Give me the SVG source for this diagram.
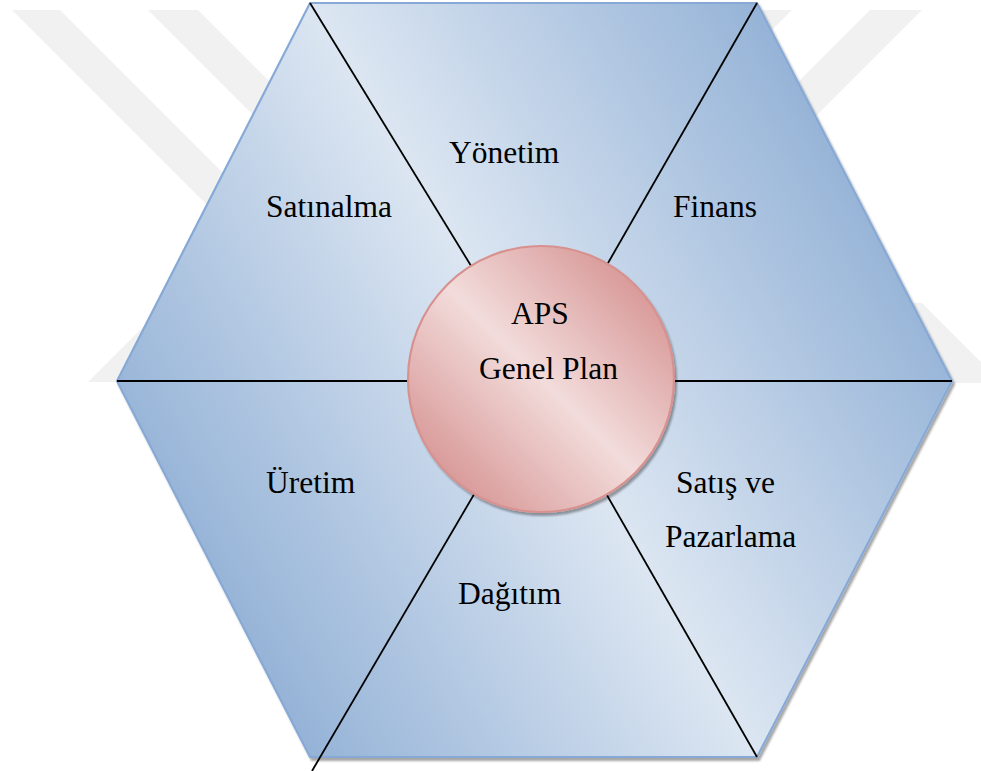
<svg xmlns="http://www.w3.org/2000/svg" width="981" height="771" viewBox="0 0 981 771">
  <defs>
    <style>
      .mark { fill: #f1f1f1; }
      .spoke { stroke: #000; stroke-width: 1.8; fill: none; }
      .lbl { font-family: "Liberation Serif", "Times New Roman", serif; font-size: 31.5px; fill: #000; }
    </style>
    <linearGradient id="hexFill" gradientUnits="userSpaceOnUse" x1="867" y1="185" x2="203" y2="575">
      <stop offset="0" stop-color="#95b3d7"/>
      <stop offset="0.5" stop-color="#dce6f2"/>
      <stop offset="1" stop-color="#95b3d7"/>
    </linearGradient>
    <linearGradient id="coreFill" x1="0.85" y1="0.15" x2="0.15" y2="0.85">
      <stop offset="0" stop-color="#d99c9b"/>
      <stop offset="0.5" stop-color="#f2dcdb"/>
      <stop offset="1" stop-color="#d99c9b"/>
    </linearGradient>
    <filter id="shade" x="-5%" y="-5%" width="110%" height="110%">
      <feDropShadow dx="2" dy="3" stdDeviation="1.2" flood-color="#000" flood-opacity="0.35"/>
    </filter>
  </defs>

  <rect x="0" y="0" width="981" height="771" fill="#ffffff"/>

  <!-- faint background bands -->
  <g id="backdrop">
    <polygon class="mark" points="12,10 60,10 300,250 252,250"/>
    <polygon class="mark" points="148,10 198,10 350,162 300,162"/>
    <polygon class="mark" points="88,382 140,382 240,282 188,282"/>
    <polygon class="mark" points="763,10 792,10 640,162 611,162"/>
    <polygon class="mark" points="870,10 922,10 770,162 718,162"/>
    <polygon class="mark" points="872,303 922,303 1002,383 952,383"/>
  </g>

  <!-- hexagon body -->
  <g id="hexagon">
    <polygon points="310,3 757,3 952,381 757,757 310,757 117,381" fill="url(#hexFill)" stroke="#86a9d6" stroke-width="2.2" stroke-linejoin="miter" filter="url(#shade)"/>
  </g>

  <!-- dividing spokes -->
  <g id="connectors">
    <line class="spoke" x1="541" y1="380" x2="310" y2="3"/>
    <line class="spoke" x1="541" y1="380" x2="757" y2="3"/>
    <line class="spoke" x1="541" y1="381" x2="952" y2="381"/>
    <line class="spoke" x1="541" y1="380" x2="757" y2="757"/>
    <line class="spoke" x1="541" y1="380" x2="312" y2="771"/>
    <line class="spoke" x1="541" y1="381" x2="117" y2="381"/>
  </g>

  <!-- centre circle -->
  <g id="aps">
    <circle cx="541" cy="379" r="133" fill="url(#coreFill)" stroke="#d7918f" stroke-width="2.2" filter="url(#shade)"/>
    <text class="lbl" x="511" y="324">APS</text>
    <text class="lbl" x="479" y="379">Genel Plan</text>
  </g>

  <g id="yonetim"><text class="lbl" x="449" y="163">Yönetim</text></g>
  <g id="satinalma"><text class="lbl" x="266" y="217">Satınalma</text></g>
  <g id="finans"><text class="lbl" x="673" y="217">Finans</text></g>
  <g id="uretim"><text class="lbl" x="266" y="493">Üretim</text></g>
  <g id="satis">
    <text class="lbl" x="676" y="493">Satış ve</text>
    <text class="lbl" x="665" y="547">Pazarlama</text>
  </g>
  <g id="dagitim"><text class="lbl" x="458" y="604">Dağıtım</text></g>
</svg>
